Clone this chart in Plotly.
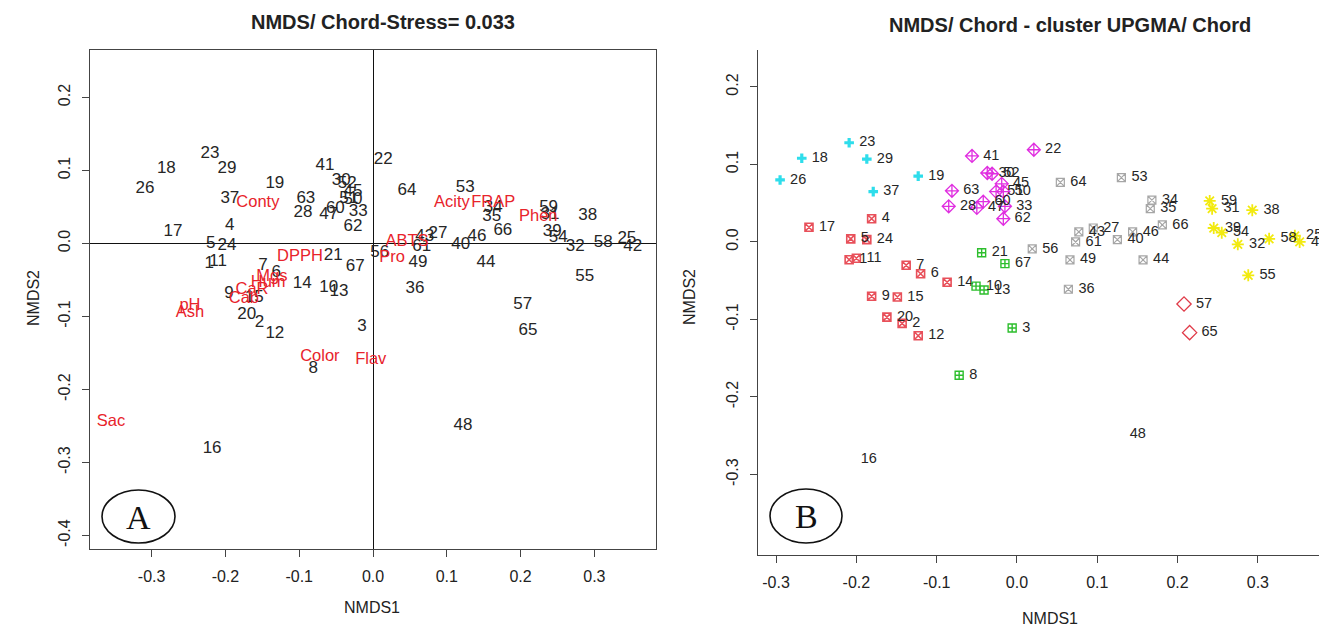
import plotly.graph_objects as go

W, H = 1319, 628

# ---------------- Panel A data (NMDS scores, text labels) ----------------
A_SAMPLE_LABELS = ["1","2","3","4","5","6","7","8","9","10","11","12","13","14","15","16","17","18","19","20",
                   "21","22","23","24","25","26","27","28","29","30","31","32","33","34","35","36","37","38","39","40",
                   "41","42","43","44","45","46","47","48","49","50","51","52","53","54","55","56","57","58","59","60",
                   "61","62","63","64","65","66","67"]
A_SAMPLE_X = [-0.222,-0.154,-0.015,-0.194,-0.220,-0.131,-0.149,-0.081,-0.195,-0.060,-0.210,-0.133,-0.046,-0.096,-0.161,-0.218,-0.271,-0.280,-0.133,-0.171,
              -0.054,0.014,-0.221,-0.198,0.344,-0.309,0.088,-0.095,-0.198,-0.043,0.240,0.274,-0.020,0.163,0.161,0.057,-0.194,0.291,0.243,0.119,
              -0.065,0.352,0.070,0.153,-0.027,0.141,-0.060,0.122,0.061,-0.027,-0.033,-0.035,0.125,0.251,0.287,0.009,0.203,0.312,0.238,-0.051,
              0.066,-0.027,-0.091,0.046,0.210,0.176,-0.024]
A_SAMPLE_Y = [-0.028,-0.108,-0.114,0.024,-0.001,-0.040,-0.031,-0.172,-0.069,-0.061,-0.025,-0.124,-0.066,-0.055,-0.075,-0.281,0.016,0.103,0.082,-0.098,
              -0.017,0.114,0.123,-0.003,0.006,0.075,0.014,0.042,0.102,0.086,0.039,-0.005,0.043,0.049,0.036,-0.062,0.061,0.038,0.016,-0.002,
              0.106,-0.005,0.009,-0.027,0.071,0.009,0.039,-0.250,-0.027,0.060,0.061,0.082,0.077,0.008,-0.046,-0.013,-0.084,0.001,0.049,0.047,
              -0.005,0.023,0.061,0.072,-0.120,0.018,-0.032]

A_VAR_LABELS = ["Conty","DPPH","Mgs","Hum","CaR","Cab","pH","Ash","Sac","Color","Flav","Pro","ABTS","Acity","FRAP","Phen"]
A_VAR_X = [-0.156,-0.099,-0.137,-0.142,-0.164,-0.175,-0.248,-0.248,-0.355,-0.072,-0.003,0.026,0.046,0.107,0.163,0.224]
A_VAR_Y = [0.055,-0.018,-0.046,-0.054,-0.064,-0.076,-0.086,-0.095,-0.245,-0.155,-0.160,-0.020,0.002,0.055,0.055,0.036]

# ---------------- Panel B data (UPGMA clusters) ----------------
B_CYAN_LABELS = ["23","18","29","26","19","37"]
B_CYAN_X = [-0.209,-0.268,-0.187,-0.295,-0.123,-0.179]
B_CYAN_Y = [0.128,0.108,0.107,0.080,0.085,0.065]

B_MAG_LABELS = ["41","22","30","52","45","51","50","63","28","47","60","33","62"]
B_MAG_X = [-0.056,0.021,-0.037,-0.031,-0.019,-0.026,-0.017,-0.081,-0.085,-0.050,-0.042,-0.015,-0.017]
B_MAG_Y = [0.111,0.119,0.089,0.088,0.075,0.065,0.065,0.066,0.046,0.044,0.052,0.046,0.030]

B_RED_LABELS = ["17","4","5","24","1","11","7","6","14","9","15","20","2","12"]
B_RED_X = [-0.259,-0.181,-0.207,-0.187,-0.209,-0.200,-0.138,-0.120,-0.087,-0.181,-0.149,-0.162,-0.143,-0.123]
B_RED_Y = [0.019,0.030,0.004,0.003,-0.023,-0.021,-0.030,-0.041,-0.052,-0.070,-0.071,-0.097,-0.105,-0.121]

B_GREEN_LABELS = ["21","67","10","13","3","8"]
B_GREEN_X = [-0.044,-0.015,-0.051,-0.041,-0.006,-0.072]
B_GREEN_Y = [-0.014,-0.028,-0.057,-0.062,-0.111,-0.172]

B_GRAY_LABELS = ["64","53","34","35","66","27","43","61","40","46","56","49","44","36"]
B_GRAY_X = [0.054,0.130,0.168,0.166,0.181,0.095,0.077,0.073,0.125,0.144,0.019,0.066,0.157,0.064]
B_GRAY_Y = [0.077,0.083,0.054,0.043,0.022,0.018,0.013,0.000,0.003,0.013,-0.009,-0.023,-0.023,-0.061]

B_YEL_LABELS = ["59","31","38","39","54","32","58","25","42","55"]
B_YEL_X = [0.240,0.243,0.293,0.245,0.255,0.275,0.314,0.346,0.352,0.288]
B_YEL_Y = [0.053,0.043,0.041,0.018,0.012,-0.003,0.004,0.008,0.000,-0.043]

B_DIA_LABELS = ["57","65"]
B_DIA_X = [0.208,0.215]
B_DIA_Y = [-0.080,-0.117]

B_NONE_LABELS = ["16","48"]
B_NONE_X = [-0.207,0.128]
B_NONE_Y = [-0.280,-0.248]

X_TICKS = [-0.3,-0.2,-0.1,0.0,0.1,0.2,0.3]
X_TICKTEXT = ["-0.3","-0.2","-0.1","0.0","0.1","0.2","0.3"]
YA_TICKS = [-0.4,-0.3,-0.2,-0.1,0.0,0.1,0.2]
YA_TICKTEXT = ["-0.4","-0.3","-0.2","-0.1","0.0","0.1","0.2"]
YB_TICKS = [-0.3,-0.2,-0.1,0.0,0.1,0.2]
YB_TICKTEXT = ["-0.3","-0.2","-0.1","0.0","0.1","0.2"]

FONT = "Liberation Sans, Arial, sans-serif"
TXT = "#222222"

def px(x):
    return x / W

def py(y):
    return (H - y) / H

fig = go.Figure()

# Panel A
fig.add_trace(go.Scatter(x=A_SAMPLE_X, y=A_SAMPLE_Y, mode="text", text=A_SAMPLE_LABELS,
                         textposition="middle center",
                         textfont=dict(family=FONT, size=17, color="#262626"),
                         xaxis="x", yaxis="y", showlegend=False, hoverinfo="skip"))
fig.add_trace(go.Scatter(x=A_VAR_X, y=A_VAR_Y, mode="text", text=A_VAR_LABELS,
                         textposition="middle center",
                         textfont=dict(family=FONT, size=16.5, color="#E8232B"),
                         xaxis="x", yaxis="y", showlegend=False, hoverinfo="skip"))

# Panel B
groups = [
    (B_CYAN_LABELS, B_CYAN_X, B_CYAN_Y, "cross", "#2EDDEB", 8, 0),
    (B_MAG_LABELS, B_MAG_X, B_MAG_Y, "diamond-cross-open", "#E02EE0", 10, 1.3),
    (B_RED_LABELS, B_RED_X, B_RED_Y, "square-x-open", "#E8505A", 8, 1.6),
    (B_GREEN_LABELS, B_GREEN_X, B_GREEN_Y, "square-cross-open", "#2DBE2D", 8, 1.4),
    (B_GRAY_LABELS, B_GRAY_X, B_GRAY_Y, "square-x-open", "#A6A6A6", 8, 1.2),
    (B_YEL_LABELS, B_YEL_X, B_YEL_Y, "asterisk-open", "#F2EA10", 10, 1.8),
    (B_DIA_LABELS, B_DIA_X, B_DIA_Y, "diamond-open", "#E03A48", 11, 1.3),
]
for labels, xs, ys, sym, col, size, lw in groups:
    fig.add_trace(go.Scatter(x=xs, y=ys, mode="markers+text", text=labels,
                             texttemplate="\u00a0%{text}",
                             textposition="middle right",
                             textfont=dict(family=FONT, size=14.5, color="#262626"),
                             marker=dict(symbol=sym, color=col, size=size,
                                         line=dict(color=col, width=lw)),
                             xaxis="x2", yaxis="y2", showlegend=False, hoverinfo="skip"))
fig.add_trace(go.Scatter(x=B_NONE_X, y=B_NONE_Y, mode="markers+text", text=B_NONE_LABELS,
                         texttemplate="\u00a0%{text}",
                         textposition="middle right",
                         textfont=dict(family=FONT, size=14.5, color="#262626"),
                         marker=dict(symbol="circle", color="rgba(0,0,0,0)", size=8),
                         xaxis="x2", yaxis="y2", showlegend=False, hoverinfo="skip"))

axis_common = dict(showgrid=False, ticks="outside", ticklen=7, tickcolor="#444",
                   tickfont=dict(family=FONT, size=16, color=TXT), ticklabelstandoff=6,
                   showline=True, linecolor="#444", linewidth=1)

fig.update_layout(
    width=W, height=H,
    margin=dict(l=0, r=0, t=0, b=0),
    paper_bgcolor="white", plot_bgcolor="white",
    xaxis=dict(domain=[px(90), px(656)], range=[-0.3835, 0.3835], tickvals=X_TICKS, ticktext=X_TICKTEXT,
               mirror=True, zeroline=True, zerolinecolor="#111", zerolinewidth=1,
               anchor="y", **axis_common),
    yaxis=dict(domain=[py(549), py(50)], range=[-0.4185, 0.265], tickvals=YA_TICKS, ticktext=YA_TICKTEXT,
               mirror=True, zeroline=True, zerolinecolor="#111", zerolinewidth=1, tickangle=-90,
               anchor="x", **axis_common),
    xaxis2=dict(domain=[px(758), 1.0], range=[-0.3225, 0.3761], tickvals=X_TICKS, ticktext=X_TICKTEXT,
                mirror=False, zeroline=False, anchor="y2", **axis_common),
    yaxis2=dict(domain=[py(555), py(50)], range=[-0.4039, 0.2477], tickvals=YB_TICKS, ticktext=YB_TICKTEXT,
                mirror=False, zeroline=False, tickangle=-90, anchor="x2", **axis_common),
)

ann = []
ann.append(dict(x=px(383), y=py(22), xref="paper", yref="paper", text="<b>NMDS/ Chord-Stress= 0.033</b>",
                showarrow=False, font=dict(family=FONT, size=20, color=TXT), xanchor="center", yanchor="middle"))
ann.append(dict(x=px(1070), y=py(25), xref="paper", yref="paper", text="<b>NMDS/ Chord - cluster UPGMA/ Chord</b>",
                showarrow=False, font=dict(family=FONT, size=20, color=TXT), xanchor="center", yanchor="middle"))
ann.append(dict(x=px(372), y=py(607), xref="paper", yref="paper", text="NMDS1", showarrow=False,
                font=dict(family=FONT, size=16, color=TXT), xanchor="center", yanchor="middle"))
ann.append(dict(x=px(33), y=py(298), xref="paper", yref="paper", text="NMDS2", showarrow=False, textangle=-90,
                font=dict(family=FONT, size=16, color=TXT), xanchor="center", yanchor="middle"))
ann.append(dict(x=px(1050), y=py(618), xref="paper", yref="paper", text="NMDS1", showarrow=False,
                font=dict(family=FONT, size=16, color=TXT), xanchor="center", yanchor="middle"))
ann.append(dict(x=px(690), y=py(297), xref="paper", yref="paper", text="NMDS2", showarrow=False, textangle=-90,
                font=dict(family=FONT, size=16, color=TXT), xanchor="center", yanchor="middle"))
ann.append(dict(x=px(138), y=py(517), xref="paper", yref="paper", text="A", showarrow=False,
                font=dict(family="Liberation Serif, DejaVu Serif, serif", size=34, color="#111"),
                xanchor="center", yanchor="middle"))
ann.append(dict(x=px(806), y=py(516), xref="paper", yref="paper", text="B", showarrow=False,
                font=dict(family="Liberation Serif, DejaVu Serif, serif", size=34, color="#111"),
                xanchor="center", yanchor="middle"))
fig.update_layout(annotations=ann)

fig.update_layout(shapes=[
    dict(type="circle", xref="paper", yref="paper", x0=px(102), x1=px(175), y0=py(543), y1=py(490),
         line=dict(color="#111", width=1.6)),
    dict(type="circle", xref="paper", yref="paper", x0=px(770), x1=px(842), y0=py(543), y1=py(489),
         line=dict(color="#111", width=1.6)),
])

fig.write_html("out.html")
